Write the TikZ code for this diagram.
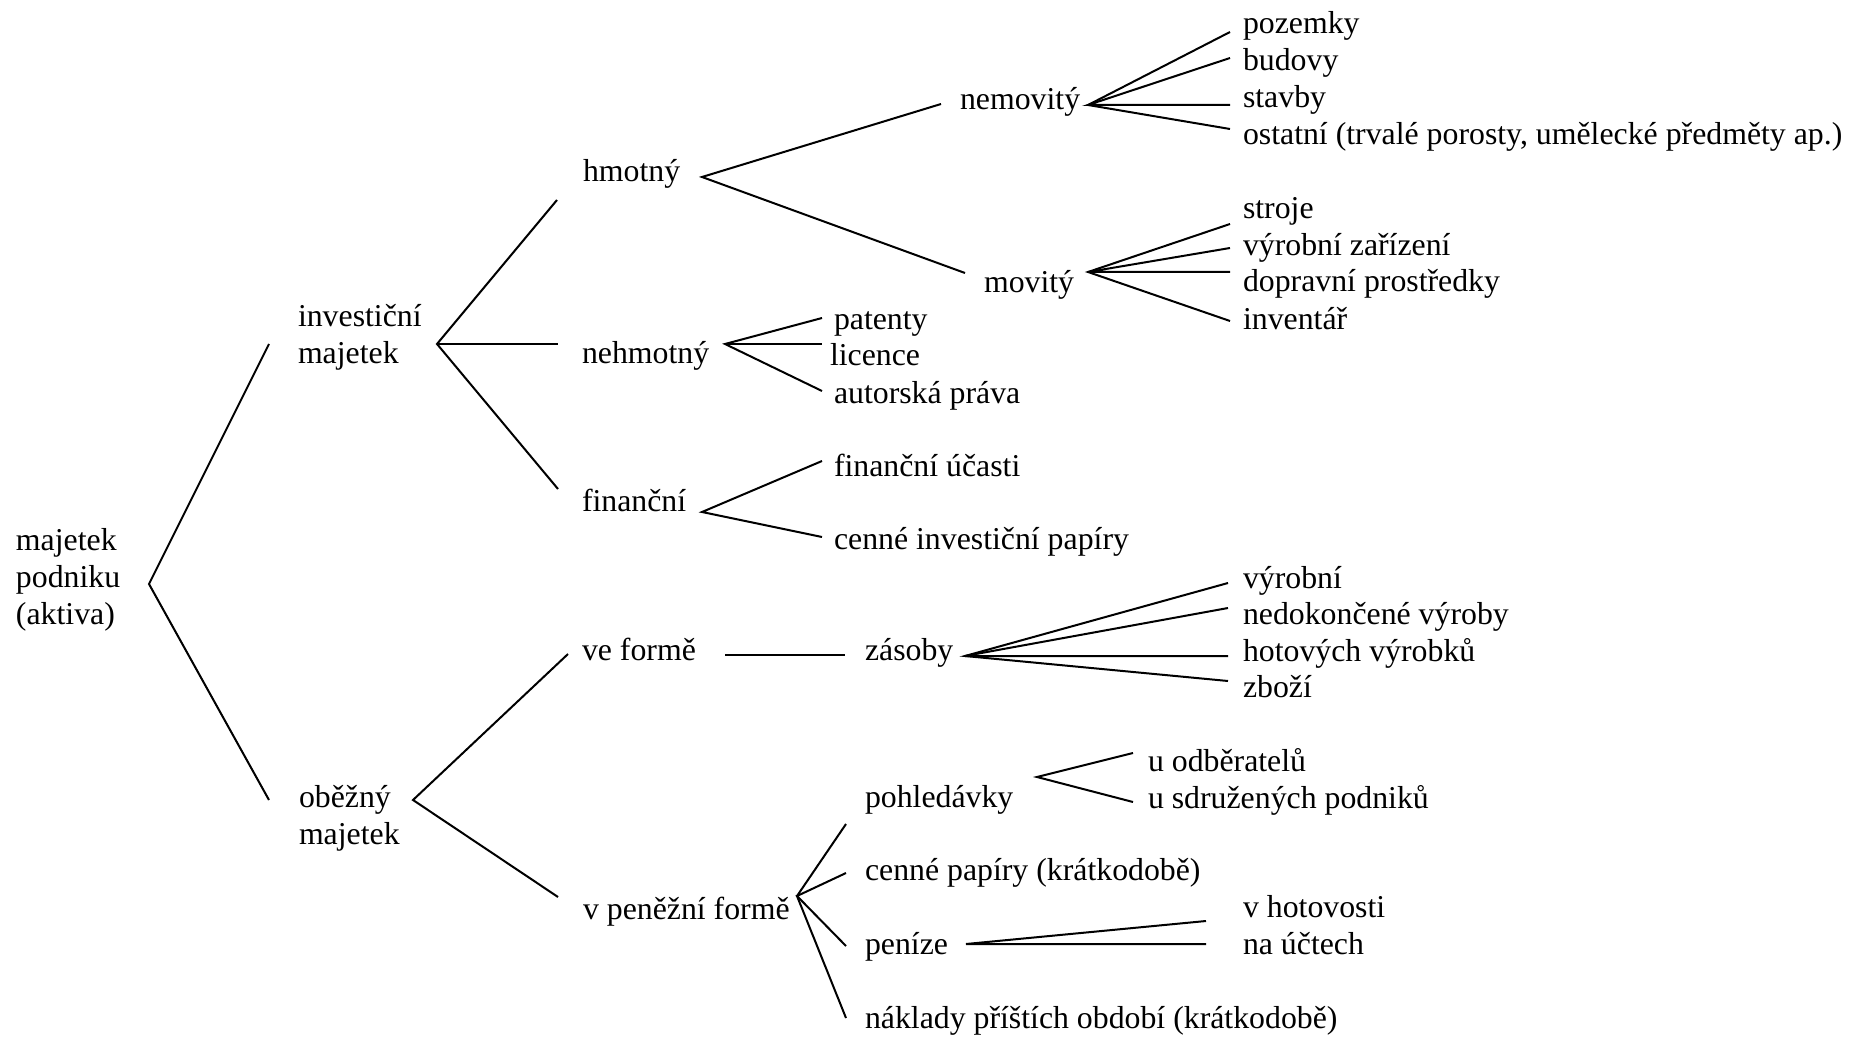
\documentclass[tikz,border=0pt]{standalone}
\usepackage{fontspec}
\setmainfont{Liberation Serif}
\begin{document}
\begin{tikzpicture}[x=0.5pt,y=-0.5pt,
  lbl/.style={anchor=base west, inner sep=0pt, outer sep=0pt,
              font=\fontsize{15.9}{18.5}\selectfont, align=left},
  br/.style={line width=1pt, line join=miter}]
\useasboundingbox[fill=white] (0,0) rectangle (1850,1037);

% ---- labels (multi-line labels are placed by their last baseline) ----
\node[lbl] (root)  at (16,624)  {majetek\\podniku\\(aktiva)};
\node[lbl] (inv)   at (298,364) {investiční\\majetek};
\node[lbl] (obez)  at (299,844) {oběžný\\majetek};

\node[lbl] (hmot)  at (583,182) {hmotný};
\node[lbl] (nehm)  at (582,364) {nehmotný};
\node[lbl] (fin)   at (582,511) {finanční};
\node[lbl] (vef)   at (582,660) {ve formě};
\node[lbl] (vpen)  at (583,919) {v peněžní formě};

\node[lbl] (nemov) at (960,110) {nemovitý};
\node[lbl] (mov)   at (984,293) {movitý};

\node[lbl] (poz)   at (1243,34)  {pozemky};
\node[lbl] (bud)   at (1243,71)  {budovy};
\node[lbl] (stav)  at (1243,108) {stavby};
\node[lbl] (ost)   at (1243,145) {ostatní (trvalé porosty, umělecké předměty ap.)};

\node[lbl] (stro)  at (1243,219) {stroje};
\node[lbl] (vzar)  at (1243,256) {výrobní zařízení};
\node[lbl] (dopr)  at (1243,292) {dopravní prostředky};
\node[lbl] (inven) at (1243,329) {inventář};

\node[lbl] (pat)   at (834,329) {patenty};
\node[lbl] (lic)   at (830,365) {licence};
\node[lbl] (aut)   at (834,403) {autorská práva};

\node[lbl] (fuc)   at (834,476) {finanční účasti};
\node[lbl] (cip)   at (834,549) {cenné investiční papíry};

\node[lbl] (zas)   at (865,660) {zásoby};
\node[lbl] (vyr)   at (1243,588) {výrobní};
\node[lbl] (ned)   at (1243,624) {nedokončené výroby};
\node[lbl] (hot)   at (1243,661) {hotových výrobků};
\node[lbl] (zbo)   at (1243,697) {zboží};

\node[lbl] (pohl)  at (865,807) {pohledávky};
\node[lbl] (uodb)  at (1148,771) {u odběratelů};
\node[lbl] (usdr)  at (1148,808) {u sdružených podniků};
\node[lbl] (cpap)  at (865,880) {cenné papíry (krátkodobě)};
\node[lbl] (pen)   at (865,954) {peníze};
\node[lbl] (vhot)  at (1243,917) {v hotovosti};
\node[lbl] (nauc)  at (1243,954) {na účtech};
\node[lbl] (nakl)  at (865,1028) {náklady příštích období (krátkodobě)};

% ---- branch points and line ends ----
\coordinate (rootJ) at (149,584);
\coordinate (rInv)  at (269,344);
\coordinate (rObe)  at (269,800);

\coordinate (invJ)  at (437,344);
\coordinate (iHm)   at (557,200);
\coordinate (iNe)   at (558,344);
\coordinate (iFi)   at (558,489);

\coordinate (obJ)   at (413,800);
\coordinate (oVe)   at (568,654);
\coordinate (oVp)   at (558,897);

\coordinate (hmJ)   at (702,177);
\coordinate (hNem)  at (941,104);
\coordinate (hMov)  at (965,273);

\coordinate (nemJ)  at (1088,105);
\coordinate (n1)    at (1230,32);
\coordinate (n2)    at (1230,58);
\coordinate (n3)    at (1230,105);
\coordinate (n4)    at (1230,129);

\coordinate (movJ)  at (1088,272);
\coordinate (m1)    at (1230,224);
\coordinate (m2)    at (1230,248);
\coordinate (m3)    at (1230,272);
\coordinate (m4)    at (1230,321);

\coordinate (nehJ)  at (725,344);
\coordinate (e1)    at (822,318);
\coordinate (e2)    at (822,344);
\coordinate (e3)    at (822,391);

\coordinate (finJ)  at (702,512);
\coordinate (f1)    at (822,461);
\coordinate (f2)    at (822,537);

\coordinate (vefR)  at (725,655);
\coordinate (zasL)  at (845,655);

\coordinate (zasJ)  at (965,656);
\coordinate (z1)    at (1228,583);
\coordinate (z2)    at (1228,608);
\coordinate (z3)    at (1228,656);
\coordinate (z4)    at (1228,681);

\coordinate (vpJ)   at (797,896);
\coordinate (p1)    at (846,824);
\coordinate (p2)    at (846,873);
\coordinate (p3)    at (846,946);
\coordinate (p4)    at (846,1018);

\coordinate (pohJ)  at (1037,777);
\coordinate (q1)    at (1133,753);
\coordinate (q2)    at (1133,802);

\coordinate (penJ)  at (966,944);
\coordinate (c1)    at (1206,921);
\coordinate (c2)    at (1206,944);

% ---- branches ----
\draw[br] (rInv) -- (rootJ) -- (rObe);
\draw[br] (iHm) -- (invJ) -- (iFi);
\draw[br] (invJ) -- (iNe);
\draw[br] (oVe) -- (obJ) -- (oVp);
\draw[br] (hNem) -- (hmJ) -- (hMov);
\draw[br] (n1) -- (nemJ) -- (n4);
\draw[br] (n2) -- (nemJ) -- (n3);
\draw[br] (m1) -- (movJ) -- (m4);
\draw[br] (m2) -- (movJ) -- (m3);
\draw[br] (e1) -- (nehJ) -- (e3);
\draw[br] (nehJ) -- (e2);
\draw[br] (f1) -- (finJ) -- (f2);
\draw[br] (vefR) -- (zasL);
\draw[br] (z1) -- (zasJ) -- (z4);
\draw[br] (z2) -- (zasJ) -- (z3);
\draw[br] (p1) -- (vpJ) -- (p4);
\draw[br] (p2) -- (vpJ) -- (p3);
\draw[br] (q1) -- (pohJ) -- (q2);
\draw[br] (c1) -- (penJ) -- (c2);
\end{tikzpicture}
\end{document}
